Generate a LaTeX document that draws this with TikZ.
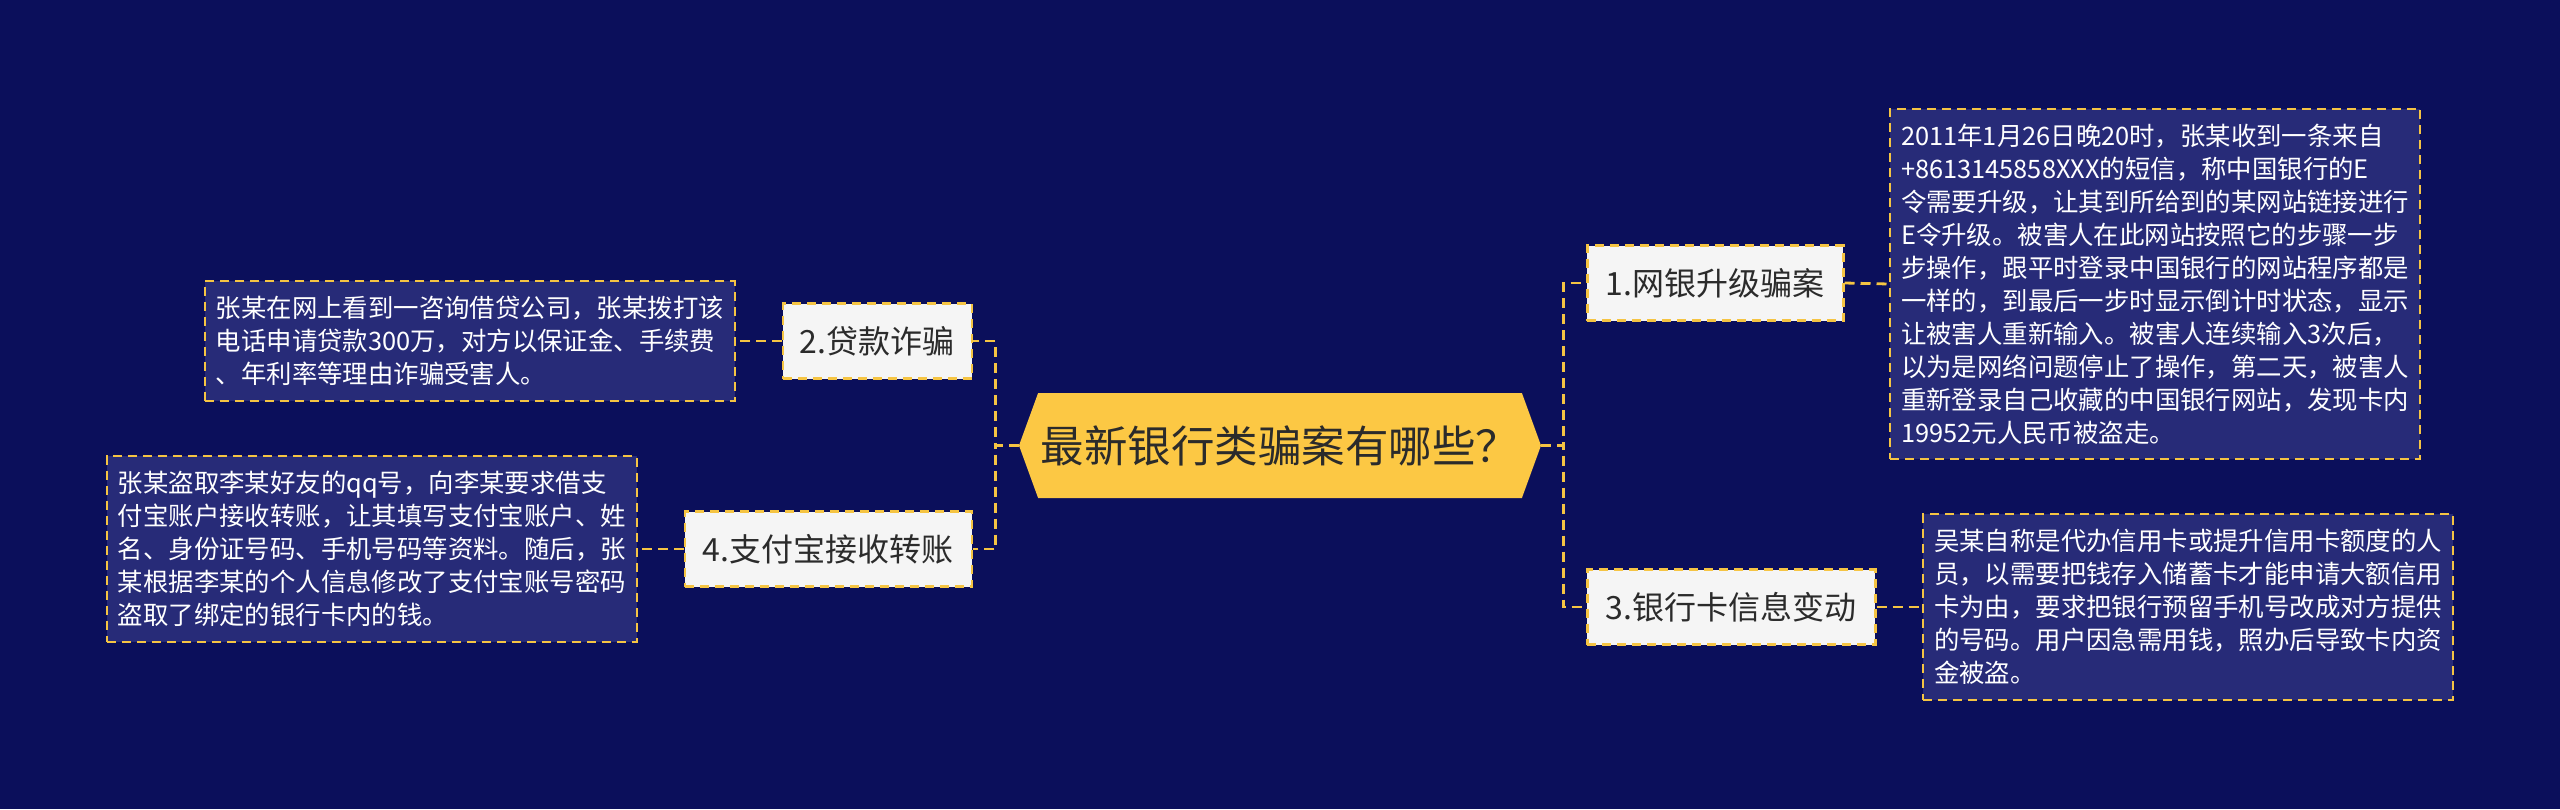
\documentclass[tikz,border=0pt]{standalone}
\usepackage{fontspec}
\setmainfont{Noto Sans CJK SC}
\usetikzlibrary{shapes.symbols}
\definecolor{bg}{HTML}{0B0F5B}
\definecolor{descfill}{HTML}{272B78}
\definecolor{gold}{HTML}{F5C443}
\definecolor{centerfill}{HTML}{FCC844}
\definecolor{nodefill}{HTML}{F5F5F5}
\definecolor{darktext}{HTML}{2B2B2B}
\tikzset{
  conn/.style={draw=gold, line width=2.8pt, dash pattern=on 10pt off 6pt},
  topic/.style={draw=gold, fill=nodefill, line width=2.5pt, dash pattern=on 9pt off 6pt,
    minimum height=75pt, text=darktext, font=\fontsize{32}{38}\selectfont, inner sep=0pt},
  desc/.style={draw=gold, fill=descfill, line width=2.2pt, dash pattern=on 9pt off 6pt,
    text=white, font=\fontsize{25.4}{33}\selectfont, text width=508pt,
    inner xsep=11pt, inner ysep=15pt, align=left},
  root/.style={signal, signal to=east and west, signal pointer angle=140,
    fill=centerfill, minimum width=522pt, minimum height=105pt, inner sep=0pt,
    font=\fontsize{43.5}{50}\selectfont, text=darktext}
}
\begin{document}
\begin{tikzpicture}[x=1pt,y=-1pt]
\fill[bg] (0,0) rectangle (2560,809);
\useasboundingbox (0,0) rectangle (2560,809);

\node[root] (c) at (1280,445.5) {最新银行类骗案有哪些？};

\node[topic, minimum width=189pt, anchor=east] (n2) at (973,341) {2.贷款诈骗};
\node[topic, minimum width=287pt, anchor=east] (n4) at (973,549) {4.支付宝接收转账};
\node[topic, minimum width=256pt, anchor=west] (n1) at (1586,283) {1.网银升级骗案};
\node[topic, minimum width=288pt, anchor=west] (n3) at (1586,607) {3.银行卡信息变动};

\node[desc, anchor=east] (d2) at (736,341) {张某在网上看到一咨询借贷公司，张某拨打该\\电话申请贷款300万，对方以保证金、手续费\\、年利率等理由诈骗受害人。};
\node[desc, anchor=east] (d4) at (638,549) {张某盗取李某好友的qq号，向李某要求借支\\付宝账户接收转账，让其填写支付宝账户、姓\\名、身份证号码、手机号码等资料。随后，张\\某根据李某的个人信息修改了支付宝账号密码\\盗取了绑定的银行卡内的钱。};
\node[desc, anchor=west] (d1) at (1889,284) {2011年1月26日晚20时，张某收到一条来自\\+8613145858XXX的短信，称中国银行的E\\令需要升级，让其到所给到的某网站链接进行\\E令升级。被害人在此网站按照它的步骤一步\\步操作，跟平时登录中国银行的网站程序都是\\一样的，到最后一步时显示倒计时状态，显示\\让被害人重新输入。被害人连续输入3次后，\\以为是网络问题停止了操作，第二天，被害人\\重新登录自己收藏的中国银行网站，发现卡内\\19952元人民币被盗走。};
\node[desc, anchor=west] (d3) at (1922,607) {吴某自称是代办信用卡或提升信用卡额度的人\\员，以需要把钱存入储蓄卡才能申请大额信用\\卡为由，要求把银行预留手机号改成对方提供\\的号码。用户因急需用钱，照办后导致卡内资\\金被盗。};

\draw[conn] (c.west) -- ++(-23,0) |- (n2.east);
\draw[conn] (c.west) -- ++(-23,0) |- (n4.east);
\draw[conn] (c.east) -- ++(22,0) |- (n1.west);
\draw[conn] (c.east) -- ++(22,0) |- (n3.west);
\draw[conn] (n2.west) -- (d2.east);
\draw[conn] (n4.west) -- (d4.east);
\draw[conn] (n1.east) -- (d1.west);
\draw[conn] (n3.east) -- (d3.west);
\end{tikzpicture}
\end{document}
